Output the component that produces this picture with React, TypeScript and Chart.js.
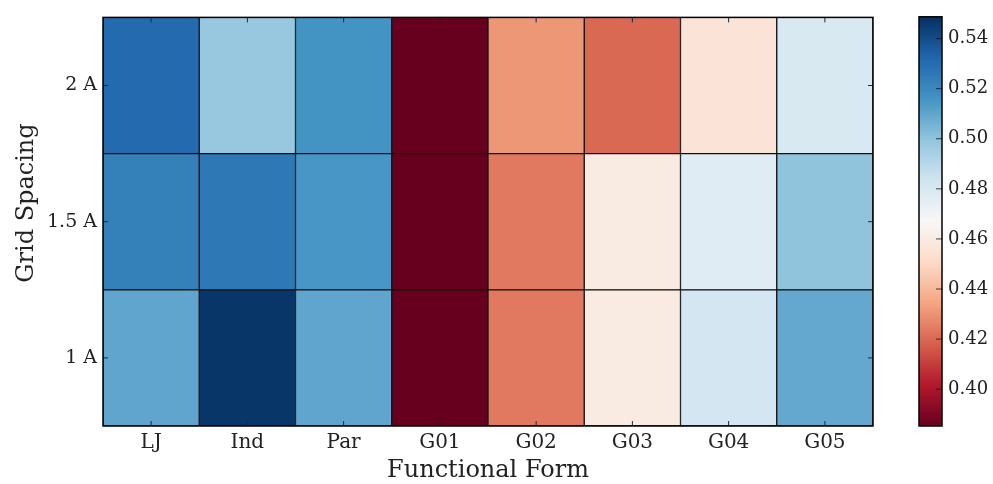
import React, { useEffect, useRef } from "react";
import { Chart, registerables } from "chart.js";

Chart.register(...registerables);

// ---- data ----
const columns = ["LJ", "Ind", "Par", "G01", "G02", "G03", "G04", "G05"];
const rowLabels = ["1 A", "1.5 A", "2 A"]; // bottom to top
const row1A = [0.51, 0.547, 0.51, 0.385, 0.424, 0.46, 0.482, 0.509];
const row15A = [0.523, 0.526, 0.515, 0.385, 0.424, 0.46, 0.477, 0.5];
const row2A = [0.531, 0.498, 0.516, 0.385, 0.431, 0.42, 0.456, 0.48];
const colorbarTicks = [0.4, 0.42, 0.44, 0.46, 0.48, 0.5, 0.52, 0.54];
const vmin = 0.3853;
const vmax = 0.5487;

const RdBu = [
  [103, 0, 31],
  [178, 24, 43],
  [214, 96, 77],
  [244, 165, 130],
  [253, 219, 199],
  [247, 247, 247],
  [209, 229, 240],
  [146, 197, 222],
  [67, 147, 195],
  [33, 102, 172],
  [5, 48, 97],
];

function cmap(t: number): string {
  t = Math.max(0, Math.min(1, t));
  const p = t * (RdBu.length - 1);
  const i = Math.min(Math.floor(p), RdBu.length - 2);
  const f = p - i;
  const a = RdBu[i];
  const b = RdBu[i + 1];
  const c = a.map((v, k) => Math.round(v + (b[k] - v) * f));
  return `rgb(${c[0]},${c[1]},${c[2]})`;
}
const colorFor = (v: number) => cmap((v - vmin) / (vmax - vmin));

const SERIF = "'DejaVu Serif', serif";

export default function App() {
  const mainRef = useRef<HTMLCanvasElement>(null);
  const cbRef = useRef<HTMLCanvasElement>(null);

  useEffect(() => {
    const rows = [row1A, row15A, row2A];
    const datasets = rows.map((vals, r) => ({
      label: rowLabels[r],
      data: vals.map(() => [r, r + 1] as [number, number]),
      backgroundColor: vals.map(colorFor),
      borderColor: "#111",
      borderWidth: 1,
      borderSkipped: false as const,
      grouped: false,
      barPercentage: 1,
      categoryPercentage: 1,
    }));

    const framePlugin = {
      id: "frame",
      afterDraw(chart: any) {
        const { ctx, chartArea: a, scales } = chart;
        ctx.save();
        ctx.strokeStyle = "#1a2a3a";
        ctx.lineWidth = 1;
        const tl = 5;
        columns.forEach((_, i) => {
          const x = scales.x.getPixelForValue(i);
          ctx.beginPath();
          ctx.moveTo(x, a.bottom);
          ctx.lineTo(x, a.bottom - tl);
          ctx.moveTo(x, a.top);
          ctx.lineTo(x, a.top + tl);
          ctx.stroke();
        });
        rowLabels.forEach((_, r) => {
          const y = scales.y.getPixelForValue(r + 0.5);
          ctx.beginPath();
          ctx.moveTo(a.left, y);
          ctx.lineTo(a.left + tl, y);
          ctx.moveTo(a.right, y);
          ctx.lineTo(a.right - tl, y);
          ctx.stroke();
        });
        ctx.strokeStyle = "#000";
        ctx.lineWidth = 1.5;
        ctx.strokeRect(a.left, a.top, a.right - a.left, a.bottom - a.top);
        // axis titles
        ctx.fillStyle = "#222";
        ctx.font = `24px ${SERIF}`;
        ctx.textAlign = "center";
        ctx.textBaseline = "middle";
        ctx.fillText("Functional Form", (a.left + a.right) / 2, 471);
        ctx.translate(27, 203);
        ctx.rotate(-Math.PI / 2);
        ctx.fillText("Grid Spacing", 0, 0);
        ctx.restore();
      },
    };

    const main = new Chart(mainRef.current!, {
      type: "bar",
      data: { labels: columns, datasets },
      options: {
        responsive: false,
        animation: false,
        events: [],
        layout: { padding: { top: 15, right: 27, left: 0, bottom: 0 } },
        plugins: { legend: { display: false }, tooltip: { enabled: false } },
        scales: {
          x: {
            type: "category",
            grid: { display: false, drawTicks: false },
            border: { display: false },
            ticks: { font: { family: SERIF, size: 20 }, color: "#222", padding: 5, maxRotation: 0 },
            afterFit(scale: any) {
              scale.height = 58;
            },
          },
          y: {
            type: "linear",
            min: 0,
            max: 3,
            grid: { display: false, drawTicks: false },
            border: { display: false },
            afterBuildTicks(scale: any) {
              scale.ticks = rowLabels.map((_, r) => ({ value: r + 0.5 }));
            },
            ticks: {
              font: { family: SERIF, size: 19 },
              color: "#222",
              padding: 6,
              callback: (v: any) => rowLabels[Math.round(Number(v) - 0.5)],
            },
            afterFit(scale: any) {
              scale.width = 103;
            },
          },
        },
      },
      plugins: [framePlugin],
    } as any);

    const cbPlugin = {
      id: "cbframe",
      afterDraw(chart: any) {
        const { ctx, chartArea: a, scales } = chart;
        ctx.save();
        ctx.strokeStyle = "rgba(20,20,20,0.8)";
        ctx.lineWidth = 1;
        colorbarTicks.forEach((v) => {
          const y = scales.y.getPixelForValue(v);
          ctx.beginPath();
          ctx.moveTo(a.right, y);
          ctx.lineTo(a.right - 6, y);
          ctx.stroke();
        });
        ctx.strokeStyle = "#000";
        ctx.lineWidth = 1.5;
        ctx.strokeRect(a.left, a.top, a.right - a.left, a.bottom - a.top);
        ctx.restore();
      },
    };

    const cb = new Chart(cbRef.current!, {
      type: "bar",
      data: {
        labels: ["cb"],
        datasets: [
          {
            data: [[vmin, vmax]],
            backgroundColor: (c: any) => {
              const area = c.chart.chartArea;
              if (!area) return "#fff";
              const g = c.chart.ctx.createLinearGradient(0, area.bottom, 0, area.top);
              RdBu.forEach((col, i) => {
                g.addColorStop(i / (RdBu.length - 1), `rgb(${col[0]},${col[1]},${col[2]})`);
              });
              return g;
            },
            borderWidth: 0,
            barPercentage: 1,
            categoryPercentage: 1,
          },
        ],
      },
      options: {
        responsive: false,
        animation: false,
        events: [],
        layout: { padding: { top: 15, right: 0, left: 19, bottom: 58 } },
        plugins: { legend: { display: false }, tooltip: { enabled: false } },
        scales: {
          x: { display: false },
          y: {
            type: "linear",
            position: "right",
            min: vmin,
            max: vmax,
            grid: { display: false, drawTicks: false },
            border: { display: false },
            afterBuildTicks(scale: any) {
              scale.ticks = colorbarTicks.map((v) => ({ value: v }));
            },
            ticks: {
              font: { family: SERIF, size: 18 },
              color: "#222",
              padding: 6,
              callback: (v: any) => Number(v).toFixed(2),
            },
            afterFit(scale: any) {
              scale.width = 51;
            },
          },
        },
      },
      plugins: [cbPlugin],
    } as any);

    return () => {
      main.destroy();
      cb.destroy();
    };
  }, []);

  return (
    <div style={{ position: "absolute", left: 0, top: 0, width: 993, height: 484, background: "#fff" }}>
      <canvas ref={mainRef} width={900} height={484} style={{ position: "absolute", left: 0, top: 0 }} />
      <canvas ref={cbRef} width={93} height={484} style={{ position: "absolute", left: 900, top: 0 }} />
    </div>
  );
}
